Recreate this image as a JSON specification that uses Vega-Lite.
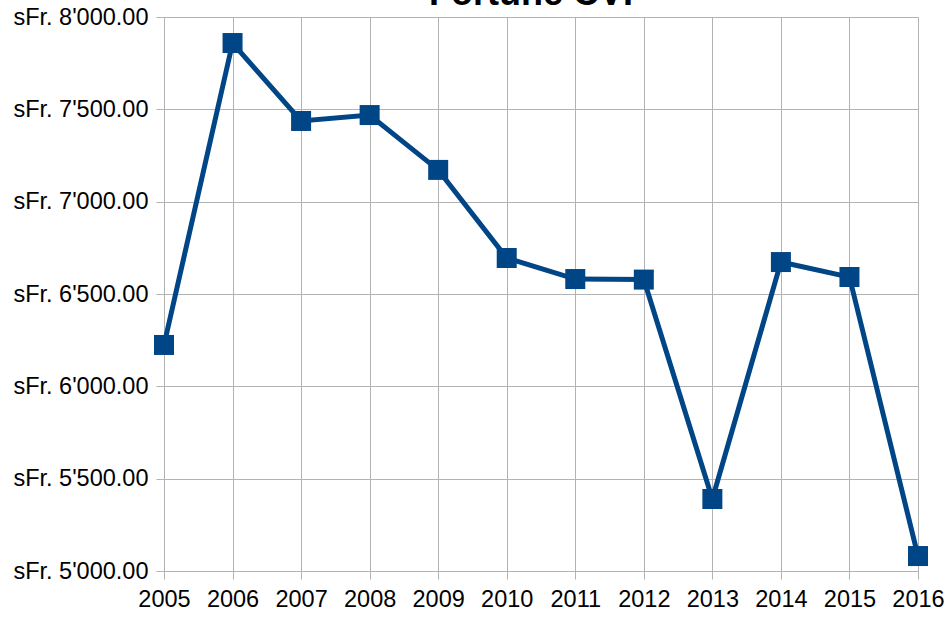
{
  "$schema": "https://vega.github.io/schema/vega-lite/v6.json",
  "width": 754,
  "height": 554,
  "autosize": {"type": "none"},
  "padding": {"left": 164, "top": 17, "right": 32, "bottom": 52},
  "background": "white",
  "title": {
    "text": "Fortune CVP",
    "font": "Liberation Sans",
    "fontSize": 36,
    "fontWeight": "bold",
    "color": "#000000",
    "anchor": "middle",
    "baseline": "alphabetic",
    "offset": 0,
    "dx": -3,
    "dy": 36
  },
  "config": {
    "view": {"stroke": null},
    "axis": {
      "labelFont": "Liberation Sans",
      "labelFontSize": 23.5,
      "labelColor": "#000000",
      "gridColor": "#b3b3b3",
      "gridWidth": 1,
      "tickColor": "#b3b3b3",
      "domainColor": "#b3b3b3",
      "tickSize": 8,
      "title": null
    }
  },
  "data": {
    "values": [
      {"year": 2005, "value": 6224},
      {"year": 2006, "value": 7859},
      {"year": 2007, "value": 7437},
      {"year": 2008, "value": 7469},
      {"year": 2009, "value": 7172},
      {"year": 2010, "value": 6695},
      {"year": 2011, "value": 6581},
      {"year": 2012, "value": 6578},
      {"year": 2013, "value": 5390},
      {"year": 2014, "value": 6673},
      {"year": 2015, "value": 6592},
      {"year": 2016, "value": 5081}
    ]
  },
  "encoding": {
    "x": {
      "field": "year",
      "type": "quantitative",
      "scale": {"domain": [2005, 2016], "nice": false, "zero": false},
      "axis": {
        "values": [2005, 2006, 2007, 2008, 2009, 2010, 2011, 2012, 2013, 2014, 2015, 2016],
        "format": "d",
        "labelPadding": 8,
        "domain": true,
        "labelFlush": false
      }
    },
    "y": {
      "field": "value",
      "type": "quantitative",
      "scale": {"domain": [5000, 8000], "nice": false, "zero": false},
      "axis": {
        "values": [5000, 5500, 6000, 6500, 7000, 7500, 8000],
        "labelExpr": "'sFr. ' + replace(format(datum.value, ',.2f'), ',', \"'\")",
        "labelPadding": 8,
        "domain": true
      }
    }
  },
  "layer": [
    {"mark": {"type": "line", "color": "#004586", "strokeWidth": 5}},
    {"mark": {"type": "point", "shape": "square", "filled": true, "size": 400, "color": "#004586", "opacity": 1}}
  ]
}
